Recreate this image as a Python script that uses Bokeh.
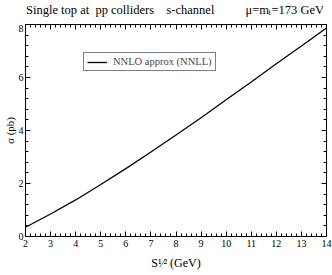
import numpy as np
from bokeh.plotting import figure
from bokeh.layouts import column
from bokeh.models import LinearAxis, FixedTicker, CustomJSTickFormatter, Range1d, Label
from bokeh.embed import file_html
from bokeh.resources import INLINE

# ---- data ----
sqrt_s = [2, 3, 4, 5, 6, 7, 8, 9, 10, 11, 12, 13, 14]
sigma_nnlo = [0.35, 0.85, 1.38, 1.96, 2.56, 3.19, 3.83, 4.48, 5.16, 5.83, 6.52, 7.19, 7.87]
x_ticks = [2, 3, 4, 5, 6, 7, 8, 9, 10, 11, 12, 13, 14]
y_ticks = [0, 2, 4, 6, 8]
legend_text = "NNLO approx (NNLL)"
NB = "\u00a0"
title_parts = ["Single top at" + NB * 2 + "pp colliders", "s-channel", "\u03bc=m", "t", "=173 GeV"]
x_title = "S\u00b9\u2044\u00b2 (GeV)"
y_title = "\u03c3 (pb)"

FONT = "Liberation Serif"
xr = Range1d(2, 14)

# ---------- title strip (shares the x scale of the plot below) ----------
TH = 24
tf = figure(frame_width=301, frame_height=TH, x_range=xr, y_range=Range1d(0, TH),
            min_border_left=15, min_border_right=7, min_border_top=0, min_border_bottom=0,
            output_backend="svg", toolbar_location=None,
            x_axis_location=None, y_axis_location=None, align="start")
tf.xgrid.visible = False
tf.ygrid.visible = False
tf.outline_line_color = None
tf.background_fill_color = "white"
tf.border_fill_color = "white"

def tlab(x, y, text, size="12.5px"):
    tf.add_layout(Label(x=x, y=y, text=text, text_font=FONT, text_font_size=size,
                        text_align="left", text_baseline="alphabetic",
                        text_color="black"))

base = TH - 9
tlab(2.02, base, title_parts[0])
tlab(7.62, base, title_parts[1])
tlab(10.77, base, title_parts[2])
tlab(11.69, base - 2.5, title_parts[3], size="8px")
tlab(11.81, base, title_parts[4])

# ---------- main plot ----------
p = figure(frame_width=301, frame_height=212,
           min_border_left=15, min_border_right=7, min_border_top=0, min_border_bottom=10,
           x_range=xr, y_range=Range1d(0, 8),
           output_backend="svg", toolbar_location=None, x_axis_location=None,
           y_axis_location=None, align="start")
p.xgrid.visible = False
p.ygrid.visible = False
p.outline_line_color = "black"
p.outline_line_width = 1
p.background_fill_color = "white"
p.border_fill_color = "white"

x_minor = [float(v) for v in np.round(np.arange(2, 14.001, 0.2), 3)]
y_minor = [float(v) for v in np.round(np.arange(0, 8.001, 0.4), 3)]

def style(ax, labels=True):
    ax.major_tick_in = 5
    ax.major_tick_out = 0
    ax.minor_tick_in = 3
    ax.minor_tick_out = 0
    ax.axis_line_color = "black"
    ax.major_tick_line_color = "black"
    ax.minor_tick_line_color = "black"
    ax.major_label_text_font = FONT
    ax.major_label_text_font_size = "10px"
    ax.major_label_text_color = "black"
    ax.axis_label_text_font = FONT
    ax.axis_label_text_font_style = "normal"
    ax.axis_label_text_color = "black"
    if not labels:
        ax.formatter = CustomJSTickFormatter(code="return ''")
        ax.major_label_standoff = 0
        ax.major_label_text_font_size = "0px"

bx = LinearAxis(ticker=FixedTicker(ticks=x_ticks, minor_ticks=x_minor))
style(bx)
bx.major_label_standoff = 3
bx.axis_label = x_title
bx.axis_label_text_font_size = "12px"
bx.axis_label_standoff = 6
p.add_layout(bx, "below")
tx = LinearAxis(ticker=FixedTicker(ticks=x_ticks, minor_ticks=x_minor))
style(tx, labels=False)
p.add_layout(tx, "above")
ly = LinearAxis(ticker=FixedTicker(ticks=y_ticks, minor_ticks=y_minor))
style(ly)
ly.major_label_standoff = 2
ly.axis_label = y_title
ly.axis_label_text_font_size = "11px"
ly.axis_label_standoff = 0
p.add_layout(ly, "left")
ry = LinearAxis(ticker=FixedTicker(ticks=y_ticks, minor_ticks=y_minor))
style(ry, labels=False)
p.add_layout(ry, "right")

p.line(sqrt_s, sigma_nnlo, line_color="black", line_width=1.3, legend_label=legend_text)

lg = p.legend[0]
lg.location = (58, 165)
lg.border_line_color = "black"
lg.border_line_width = 1
lg.background_fill_color = "white"
lg.background_fill_alpha = 1
lg.padding = 3
lg.spacing = 0
lg.margin = 0
lg.glyph_width = 20
lg.glyph_height = 10
lg.label_height = 10
lg.label_standoff = 6
lg.label_text_font = FONT
lg.label_text_font_size = "10.5px"

layout = column(tf, p, spacing=0, align="start")
open("out.html", "w").write(file_html(layout, INLINE))
